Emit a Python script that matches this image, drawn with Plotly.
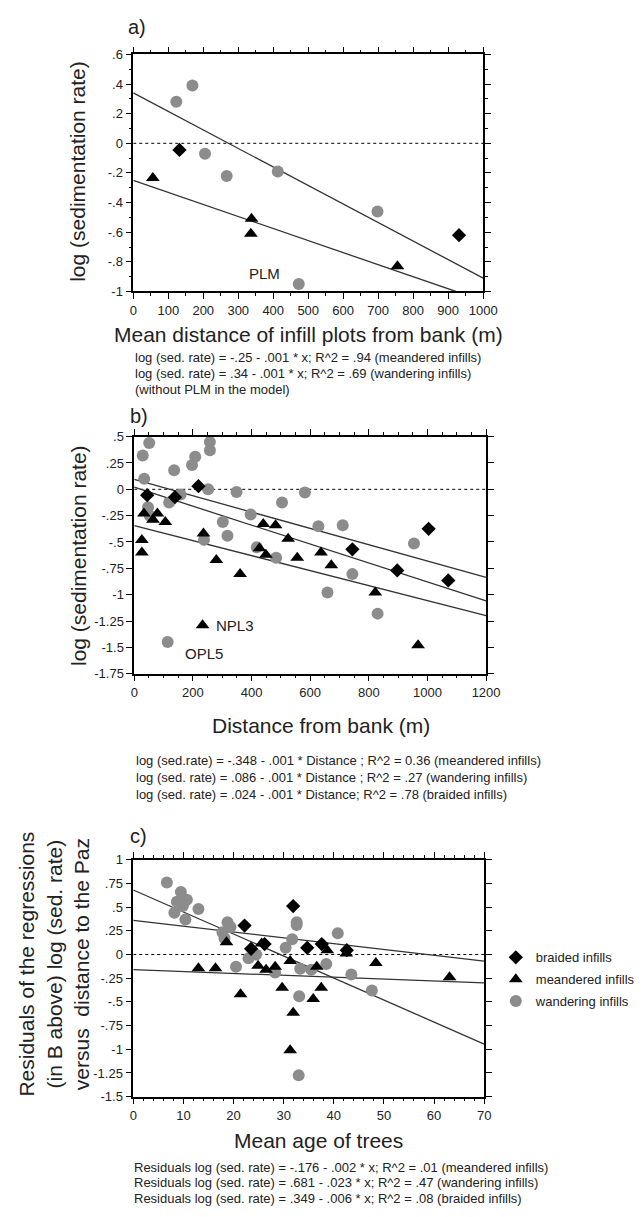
import plotly.graph_objects as go

W, H = 642, 1217
FONT = "Liberation Sans, Arial, sans-serif"
GRAY = "#8c8c8c"

# ---------------- Panel a data ----------------
a_wand_x = [123, 169, 205, 267, 413, 473, 698]
a_wand_y = [0.28, 0.39, -0.07, -0.22, -0.19, -0.95, -0.46]
a_mean_x = [56, 338, 336, 755]
a_mean_y = [-0.235, -0.51, -0.61, -0.83]
a_braid_x = [132, 931]
a_braid_y = [-0.045, -0.62]
a_fit_mean_x = [0, 922]
a_fit_mean_y = [-0.25, -1.0]
a_fit_wand_x = [0, 1000]
a_fit_wand_y = [0.34, -0.91]
a_xtick_vals = [0, 100, 200, 300, 400, 500, 600, 700, 800, 900, 1000]
a_xtick_text = ["0", "100", "200", "300", "400", "500", "600", "700", "800", "900", "1000"]
a_ytick_vals = [-1, -0.8, -0.6, -0.4, -0.2, 0, 0.2, 0.4, 0.6]
a_ytick_text = ["-1", "-.8", "-.6", "-.4", "-.2", "0", ".2", ".4", ".6"]

# ---------------- Panel b data ----------------
b_wand_x = [29, 51, 34, 136, 197, 208, 258, 258, 252, 119, 158, 47, 53, 238, 302, 318,
            349, 397, 418, 484, 504, 582, 628, 711, 744, 659, 830, 954, 114]
b_wand_y = [0.32, 0.44, 0.10, 0.18, 0.23, 0.31, 0.45, 0.37, 0.0, -0.125, -0.05, -0.17, -0.25,
            -0.48, -0.31, -0.44, -0.025, -0.24, -0.55, -0.65, -0.125, -0.03, -0.35, -0.34,
            -0.805, -0.98, -1.18, -0.515, -1.45]
b_braid_x = [44, 139, 219, 744, 897, 1004, 1071]
b_braid_y = [-0.056, -0.075, 0.03, -0.57, -0.77, -0.375, -0.865]
b_mean_x = [26, 26, 33, 79, 64, 106, 236, 280, 361, 440, 482, 427, 449, 525, 556, 637, 672,
            822, 233, 968]
b_mean_y = [-0.48, -0.60, -0.23, -0.23, -0.29, -0.31, -0.42, -0.67, -0.805, -0.33, -0.34,
            -0.56, -0.62, -0.47, -0.65, -0.60, -0.72, -0.98, -1.29, -1.48]
b_fit_wand_x = [0, 1200]
b_fit_wand_y = [0.094, -0.837]
b_fit_braid_x = [0, 1200]
b_fit_braid_y = [0.02, -1.06]
b_fit_mean_x = [0, 1200]
b_fit_mean_y = [-0.344, -1.20]
b_xtick_vals = [0, 200, 400, 600, 800, 1000, 1200]
b_xtick_text = ["0", "200", "400", "600", "800", "1000", "1200"]
b_ytick_vals = [-1.75, -1.5, -1.25, -1, -0.75, -0.5, -0.25, 0, 0.25, 0.5]
b_ytick_text = ["-1.75", "-1.5", "-1.25", "-1", "-.75", "-.5", "-.25", "0", ".25", ".5"]

# ---------------- Panel c data ----------------
c_braid_x = [22.2, 23.5, 26.2, 31.9, 34.7, 37.6, 42.6]
c_braid_y = [0.305, 0.06, 0.11, 0.51, 0.07, 0.11, 0.045]
c_mean_x = [13.0, 16.4, 18.6, 21.4, 24.9, 25.6, 26.5, 28.3, 29.7, 31.3, 31.9, 31.3, 36.6,
            37.5, 35.9, 38.7, 42.5, 48.4, 63.1]
c_mean_y = [-0.146, -0.146, 0.13, -0.42, -0.12, 0.115, -0.16, -0.13, -0.35, -0.07, -0.615,
            -1.01, -0.13, -0.35, -0.47, 0.045, 0.01, -0.09, -0.24]
c_wand_x = [6.7, 8.2, 9.5, 8.7, 10.7, 9.9, 10.4, 13.0, 17.8, 18.8, 19.4, 18.2, 20.5, 23.0,
            24.5, 28.3, 30.4, 31.7, 32.6, 32.6, 33.3, 35.5, 33.1, 38.5, 40.8, 43.5, 47.6, 33.0]
c_wand_y = [0.76, 0.44, 0.66, 0.555, 0.576, 0.51, 0.37, 0.48, 0.235, 0.34, 0.29, 0.17, -0.13,
            -0.04, 0.0, -0.19, 0.07, 0.16, 0.34, 0.31, -0.15, -0.16, -0.44, -0.10, 0.225,
            -0.21, -0.38, -1.275]
c_fit_mean_x = [0, 70]
c_fit_mean_y = [-0.16, -0.30]
c_fit_wand_x = [0, 70]
c_fit_wand_y = [0.68, -0.945]
c_fit_braid_x = [0, 70]
c_fit_braid_y = [0.36, -0.07]
c_xtick_vals = [0, 10, 20, 30, 40, 50, 60, 70]
c_xtick_text = ["0", "10", "20", "30", "40", "50", "60", "70"]
c_ytick_vals = [-1.5, -1.25, -1, -0.75, -0.5, -0.25, 0, 0.25, 0.5, 0.75, 1]
c_ytick_text = ["-1.5", "-1.25", "-1", "-.75", "-.5", "-.25", "0", ".25", ".5", ".75", "1"]


def px(x):
    return x / W


def py(y):
    return 1 - y / H


fig = go.Figure()

MK = {
    "braided": dict(symbol="diamond", size=11, color="black"),
    "meandered": dict(symbol="triangle-up", size=12, color="black"),
    "wandering": dict(symbol="circle", size=12, color=GRAY),
}
NAMES = {"braided": "braided infills", "meandered": "meandered infills",
         "wandering": "wandering infills"}
RANK = {"braided": 1, "meandered": 2, "wandering": 3}
LINE = dict(color="#333333", width=1.3)


def add_pts(x, y, kind, ax, legend=False):
    fig.add_trace(go.Scatter(x=x, y=y, mode="markers", marker=MK[kind], name=NAMES[kind],
                             xaxis="x" + ax, yaxis="y" + ax, showlegend=legend,
                             legendgroup=kind, legendrank=RANK[kind], cliponaxis=False))


def add_fit(x, y, ax):
    fig.add_trace(go.Scatter(x=x, y=y, mode="lines", line=LINE, xaxis="x" + ax,
                             yaxis="y" + ax, showlegend=False, hoverinfo="skip"))


def add_zero(xr, ax):
    fig.add_trace(go.Scatter(x=xr, y=[0, 0], mode="lines",
                             line=dict(color="black", width=1, dash="dot"),
                             xaxis="x" + ax, yaxis="y" + ax, showlegend=False,
                             hoverinfo="skip"))


# panel a
add_zero([0, 1000], "")
add_fit(a_fit_mean_x, a_fit_mean_y, "")
add_fit(a_fit_wand_x, a_fit_wand_y, "")
add_pts(a_wand_x, a_wand_y, "wandering", "")
add_pts(a_mean_x, a_mean_y, "meandered", "")
add_pts(a_braid_x, a_braid_y, "braided", "")

# panel b
add_zero([0, 1200], "2")
add_fit(b_fit_wand_x, b_fit_wand_y, "2")
add_fit(b_fit_braid_x, b_fit_braid_y, "2")
add_fit(b_fit_mean_x, b_fit_mean_y, "2")
add_pts(b_wand_x, b_wand_y, "wandering", "2")
add_pts(b_mean_x, b_mean_y, "meandered", "2")
add_pts(b_braid_x, b_braid_y, "braided", "2")

# panel c (legend lives here)
add_zero([0, 70], "3")
add_fit(c_fit_mean_x, c_fit_mean_y, "3")
add_fit(c_fit_wand_x, c_fit_wand_y, "3")
add_fit(c_fit_braid_x, c_fit_braid_y, "3")
add_pts(c_wand_x, c_wand_y, "wandering", "3", legend=True)
add_pts(c_braid_x, c_braid_y, "braided", "3", legend=True)
add_pts(c_mean_x, c_mean_y, "meandered", "3", legend=True)


def axis_style(rng, dom, vals, text, minor_dtick, anchor):
    return dict(range=rng, domain=dom, tickvals=vals, ticktext=text, anchor=anchor,
                showline=True, linecolor="black", linewidth=1.5, mirror="ticks",
                ticks="outside", ticklen=6, tickwidth=1.2, tickcolor="black",
                minor=dict(dtick=minor_dtick, ticks="outside", ticklen=3, tickwidth=1,
                           tickcolor="black", showgrid=False),
                showgrid=False, zeroline=False,
                tickfont=dict(family=FONT, size=13, color="#222"))


fig.update_layout(
    width=W, height=H, margin=dict(l=0, r=0, t=0, b=0),
    paper_bgcolor="white", plot_bgcolor="white",
    font=dict(family=FONT, color="#222"),
    xaxis=axis_style([0, 1000], [px(133), px(493)], a_xtick_vals, a_xtick_text, 50, "y"),
    yaxis=axis_style([-1, 0.6], [py(288), py(48)], a_ytick_vals, a_ytick_text, 0.1, "x"),
    xaxis2=axis_style([0, 1200], [px(134), px(496)], b_xtick_vals, b_xtick_text, 50, "y2"),
    yaxis2=axis_style([-1.75, 0.5], [py(675), py(435)], b_ytick_vals, b_ytick_text, 0.25, "x2"),
    xaxis3=axis_style([0, 70], [px(133), px(494)], c_xtick_vals, c_xtick_text, 2, "y3"),
    yaxis3=axis_style([-1.5, 1], [py(1103.3), py(863.3)], c_ytick_vals, c_ytick_text, 0.25, "x3"),
    showlegend=True,
    legend=dict(x=px(506), y=py(947), xanchor="left", yanchor="top",
                font=dict(family=FONT, size=13, color="#222"), tracegroupgap=2,
                bgcolor="rgba(0,0,0,0)", traceorder="grouped"),
)

ann = []


def txt(x, y, s, size, xanchor="center", angle=0):
    ann.append(dict(x=px(x), y=py(y), xref="paper", yref="paper", text=s, showarrow=False,
                    xanchor=xanchor, yanchor="middle", textangle=angle,
                    font=dict(family=FONT, size=size, color="#222")))


# panel labels
txt(137, 20, "a)", 20)
txt(139, 414, "b)", 20)
txt(138, 839, "c)", 20)

# y titles
txt(76, 166, "log (sedimentation rate)", 21, angle=-90)
txt(76, 555, "log (sedimentation rate)", 21, angle=-90)
txt(52, 969, "Residuals of the regressions<br>(in B above) log (sed. rate)<br>versus  distance to the Paz",
    21, angle=-90)

# x titles
txt(313, 332, "Mean distance of infill plots from bank (m)", 21)
txt(326, 727, "Distance from bank (m)", 21)
txt(324, 1148, "Mean age of trees", 21)

# equations
EQ = 13
txt(133, 355, "log (sed. rate) = -.25 - .001 * x; R^2 = .94 (meandered infills)", EQ, "left")
txt(133, 371, "log (sed. rate) = .34 - .001 * x; R^2 = .69 (wandering infills)", EQ, "left")
txt(133, 387, "(without PLM in the model)", EQ, "left")
txt(134, 763, "log (sed.rate) = -.348 - .001 * Distance ; R^2 = 0.36 (meandered infills)", EQ, "left")
txt(134, 780, "log (sed. rate) = .086 - .001 * Distance ; R^2 = .27 (wandering infills)", EQ, "left")
txt(134, 797, "log (sed. rate) = .024 - .001 * Distance; R^2 = .78 (braided infills)", EQ, "left")
txt(132, 1175, "Residuals log (sed. rate) = -.176 - .002 * x; R^2 = .01 (meandered infills)", EQ, "left")
txt(132, 1190, "Residuals log (sed. rate) = .681 - .023 * x; R^2 = .47 (wandering infills)", EQ, "left")
txt(132, 1206, "Residuals log (sed. rate) = .349 - .006 * x; R^2 = .08 (braided infills)", EQ, "left")

# point labels (data coordinates)
ann.append(dict(x=376, y=-0.88, xref="x", yref="y", text="PLM", showarrow=False,
                font=dict(family=FONT, size=15, color="#222")))
ann.append(dict(x=345, y=-1.29, xref="x2", yref="y2", text="NPL3", showarrow=False,
                font=dict(family=FONT, size=15, color="#222")))
ann.append(dict(x=239, y=-1.56, xref="x2", yref="y2", text="OPL5", showarrow=False,
                font=dict(family=FONT, size=15, color="#222")))

fig.update_layout(annotations=ann)

fig.write_html("out.html", config={"displayModeBar": False},
               post_script="document.body.style.margin='0';document.body.style.overflow='hidden';")
